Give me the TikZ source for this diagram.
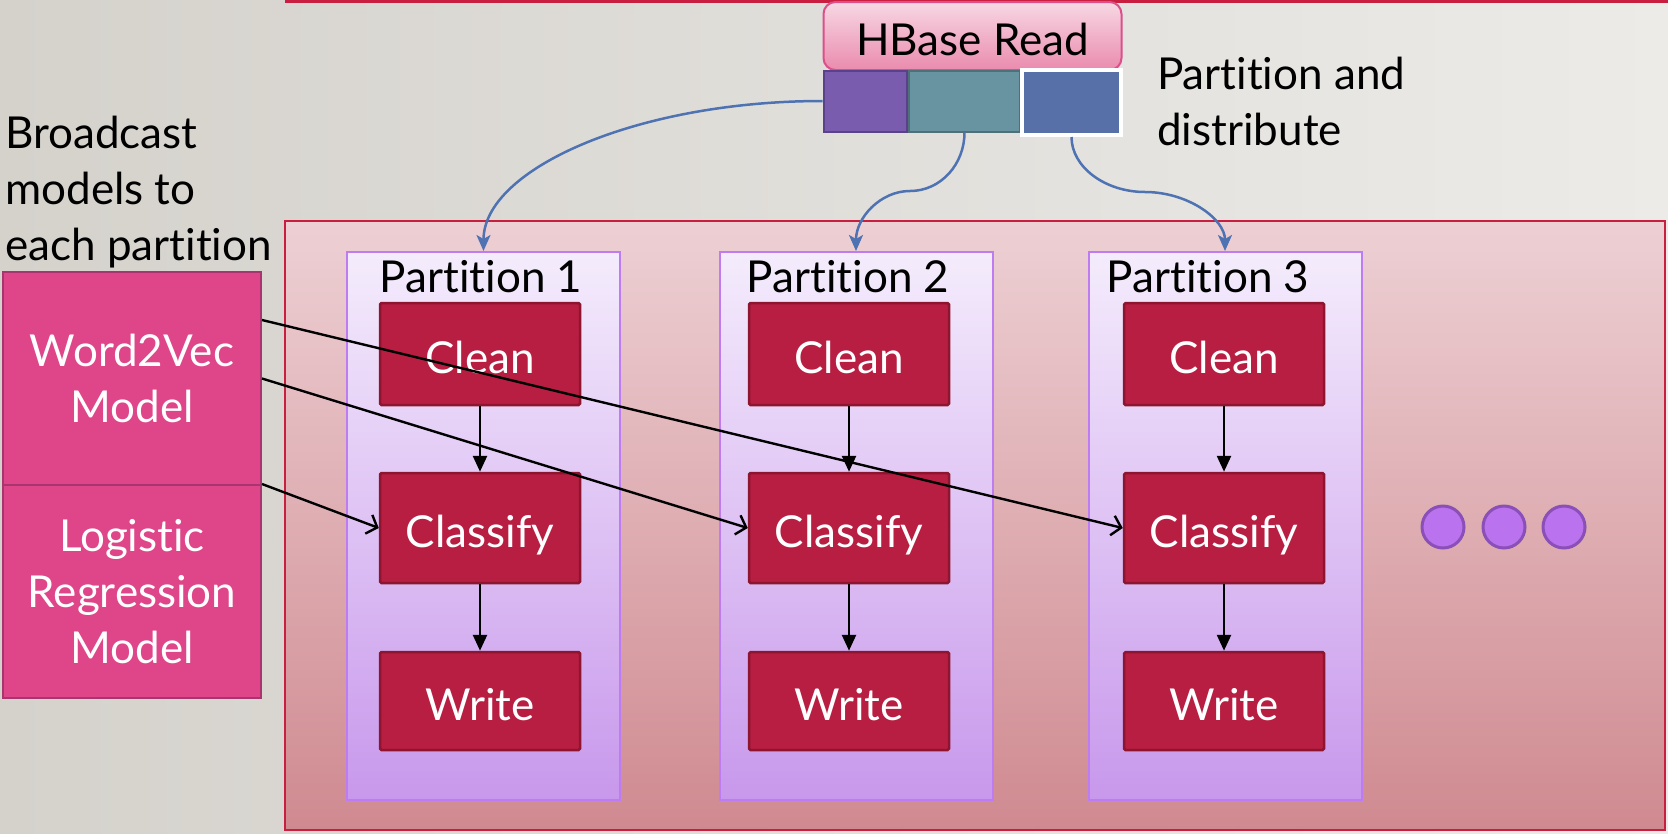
\documentclass[tikz,border=0pt]{standalone}
\usepackage{fontspec}
\setmainfont{Lato}[Ligatures={NoCommon,NoRare}]
\usetikzlibrary{arrows.meta}
\definecolor{bgL}{HTML}{D5D2CC}
\definecolor{bgR}{HTML}{ECEBE8}
\definecolor{crim}{HTML}{C81F40}
\definecolor{contT}{HTML}{EDD0D4}
\definecolor{contB}{HTML}{CF8A90}
\definecolor{partT}{HTML}{F4ECFC}
\definecolor{partBo}{HTML}{C898EC}
\definecolor{partLine}{HTML}{BD7CF2}
\definecolor{procF}{HTML}{B71E42}
\definecolor{procD}{HTML}{8E1530}
\definecolor{modF}{HTML}{DF468A}
\definecolor{modD}{HTML}{A83570}
\definecolor{hbT}{HTML}{F7D8E3}
\definecolor{hbB}{HTML}{EA8BAE}
\definecolor{hbD}{HTML}{DD4F8A}
\definecolor{purF}{HTML}{7A5CAE}
\definecolor{purD}{HTML}{5B4189}
\definecolor{tealF}{HTML}{6893A0}
\definecolor{tealD}{HTML}{4F6F79}
\definecolor{blueF}{HTML}{5770A8}
\definecolor{flow}{HTML}{4E72B2}
\definecolor{dotF}{HTML}{BA72EE}
\definecolor{dotD}{HTML}{8A50B8}
\begin{document}
\begin{tikzpicture}[x=1pt,y=-1pt,
  every node/.style={font=\fontsize{44}{56}\selectfont, inner sep=0pt},
  cont/.style={draw=crim, line width=2pt, top color=contT, bottom color=contB, minimum width=1380pt, minimum height=609pt},
  part/.style={draw=partLine, line width=2pt, top color=partT, bottom color=partBo, minimum width=273pt, minimum height=548pt},
  plabel/.style={anchor=base},
  proc/.style={draw=procD, fill=procF, line width=2.5pt, minimum width=200pt, text=white, rounded corners=1.5pt, text height=38pt, text depth=0pt},
  model/.style={draw=modD, fill=modF, line width=2pt, minimum width=258pt, minimum height=213pt, text=white, align=center},
  hbase/.style={draw=hbD, line width=2pt, top color=hbT, bottom color=hbB, rounded corners=12pt, minimum width=298pt, minimum height=68pt, text height=38pt, text depth=0pt},
  block/.style={line width=2pt, minimum height=61pt},
  flowarr/.style={draw=flow, line width=2.5pt, -{Stealth[length=16pt,width=14pt,inset=4pt]}},
  vert/.style={draw=black, line width=2.6pt, -{Triangle[length=16pt,width=14pt]}},
  bcast/.style={draw=black, line width=2.4pt, -{Straight Barb[length=9pt,width=20pt]}},
  dot/.style={circle, draw=dotD, fill=dotF, line width=3pt, minimum size=42pt}
]
\useasboundingbox (0,0) rectangle (1668,833);
\shade[left color=bgL, right color=bgR] (0,0) rectangle (1668,833);
\draw[crim, line width=4pt] (285,1) -- (1668,1);

% container and partitions
\node[cont] (cont) at (975,525.5) {};
\node[part] (p1) at (483.5,526) {};
\node[part] (p2) at (856,526) {};
\node[part] (p3) at (1225,526) {};
\node[plabel] (l1) at (481,292) {Partition 1};
\node[plabel] (l2) at (848,292) {Partition 2};
\node[plabel] (l3) at (1208,292) {Partition 3};

% process boxes
\node[proc, minimum height=102pt] (cl1) at (480,354) {Clean};
\node[proc, minimum height=110pt] (cf1) at (480,528) {Classify};
\node[proc, minimum height=98pt]  (wr1) at (480,701) {Write};
\node[proc, minimum height=102pt] (cl2) at (849,354) {Clean};
\node[proc, minimum height=110pt] (cf2) at (849,528) {Classify};
\node[proc, minimum height=98pt]  (wr2) at (849,701) {Write};
\node[proc, minimum height=102pt] (cl3) at (1224,354) {Clean};
\node[proc, minimum height=110pt] (cf3) at (1224,528) {Classify};
\node[proc, minimum height=98pt]  (wr3) at (1224,701) {Write};

\foreach \i in {1,2,3}{
  \draw[vert] (cl\i.south) -- (cf\i.north);
  \draw[vert] (cf\i.south) -- (wr\i.north);
}

% dots
\node[dot] (d1) at (1443,527) {};
\node[dot] (d2) at (1504,527) {};
\node[dot] (d3) at (1564,527) {};

% HBase read
\node[hbase] (hb) at (972.5,36) {HBase Read};
\node[block, draw=purD, fill=purF, minimum width=83pt] (pur) at (865,101) {};
\node[block, draw=tealD, fill=tealF, minimum width=111pt] (teal) at (964.5,101) {};
\node[draw=white, fill=blueF, line width=4pt, minimum width=99pt, minimum height=65pt] (blu) at (1071.5,102.5) {};
\node[anchor=north west, align=left] (pd) at (1157,57) {Partition and\\distribute};

% flows
\draw[flowarr] (pur.west) .. controls (637,101) and (483.5,169) .. (p1.north);
\draw[flowarr] (teal.south) .. controls (964.5,164) and (941,191) .. (910,191)
                .. controls (880,191) and (856,218) .. (p2.north);
\draw[flowarr] (blu.south) .. controls (1071.5,167) and (1105,192) .. (1145,192)
                .. controls (1188,192) and (1225,219) .. (p3.north);

% models
\node[anchor=north west, align=left] (bc) at (5,116) {Broadcast\\models to\\each partition};
\node[model] (w2v) at (132,378.5) {Word2Vec\\Model};
\node[model] (lr) at (132,591.5) {Logistic\\Regression\\Model};

\draw[bcast] ([yshift=-49pt]w2v.north east) -- (cf3.west);
\draw[bcast] (w2v.east) -- (cf2.west);
\draw[bcast] (lr.north east) -- (cf1.west);
\end{tikzpicture}
\end{document}
